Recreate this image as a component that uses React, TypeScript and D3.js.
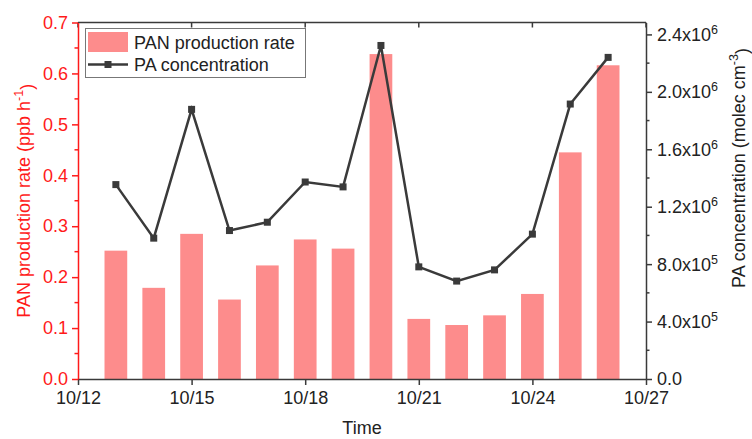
import React, { useEffect, useRef } from 'react'
import * as d3 from 'd3'

// days of October (year is arbitrary)
const days = [13, 14, 15, 16, 17, 18, 19, 20, 21, 22, 23, 24, 25, 26]
const panRate = [0.252, 0.179, 0.285, 0.156, 0.223, 0.274, 0.256, 0.638, 0.118, 0.106, 0.125, 0.167, 0.445, 0.616]
const paConc = [1.354e6, 0.981e6, 1.878e6, 1.034e6, 1.092e6, 1.372e6, 1.338e6, 2.323e6, 0.781e6, 0.682e6, 0.76e6, 1.009e6, 1.915e6, 2.24e6]
const xTickDays = [12, 15, 18, 21, 24, 27]
const leftTicks = [0, 0.1, 0.2, 0.3, 0.4, 0.5, 0.6, 0.7]
const rightTicks = [0, 4e5, 8e5, 1.2e6, 1.6e6, 2.0e6, 2.4e6]

const W = 752
const H = 439
const margin = { top: 22.5, right: 106, bottom: 60, left: 78 }
const RED = '#ff1a1a'
const DARK = '#3a3a3a'
const BAR = '#fd8c8c'
const FONT = '"Liberation Sans", Arial, sans-serif'
const FS = '18px'
const SUP = '12.5px'

const toDate = (d: number) => new Date(2020, 9, d)

function App() {
  const ref = useRef<SVGSVGElement>(null)

  useEffect(() => {
    const svg = d3.select(ref.current)
    svg.selectAll('*').remove()

    const x0 = margin.left
    const x1 = W - margin.right
    const y0 = H - margin.bottom
    const y1 = margin.top

    const x = d3.scaleTime().domain([toDate(12), toDate(27)]).range([x0, x1])
    const yL = d3.scaleLinear().domain([0, 0.7]).range([y0, y1])
    const yR = d3.scaleLinear().domain([0, 2.483e6]).range([y0, y1])

    const g = svg.append('g').style('font-family', FONT)

    // bars
    const dayW = x(toDate(13)) - x(toDate(12))
    const bw = dayW * 0.6
    g.append('g')
      .selectAll('rect')
      .data(days)
      .enter()
      .append('rect')
      .attr('x', (d) => x(toDate(d)) - bw / 2)
      .attr('width', bw)
      .attr('y', (d, i) => yL(panRate[i]))
      .attr('height', (d, i) => y0 - yL(panRate[i]))
      .attr('fill', BAR)

    // line
    const line = d3
      .line<number>()
      .x((d) => x(toDate(d)))
      .y((d, i) => yR(paConc[i]))
    g.append('path')
      .datum(days)
      .attr('d', line)
      .attr('fill', 'none')
      .attr('stroke', DARK)
      .attr('stroke-width', 2.5)
    g.append('g')
      .selectAll('rect')
      .data(days)
      .enter()
      .append('rect')
      .attr('x', (d) => x(toDate(d)) - 3.5)
      .attr('y', (d, i) => yR(paConc[i]) - 3.5)
      .attr('width', 7)
      .attr('height', 7)
      .attr('fill', DARK)

    // top frame line + inward ticks
    g.append('line')
      .attr('x1', x0).attr('x2', x1)
      .attr('y1', y1).attr('y2', y1)
      .attr('stroke', DARK).attr('stroke-width', 1.5)
    g.append('g')
      .selectAll('line')
      .data(xTickDays)
      .enter()
      .append('line')
      .attr('x1', (d) => x(toDate(d))).attr('x2', (d) => x(toDate(d)))
      .attr('y1', y1).attr('y2', y1 + 5)
      .attr('stroke', DARK).attr('stroke-width', 1.5)

    // bottom axis
    const bottom = g.append('g').attr('transform', `translate(0,${y0})`)
    bottom.call(
      d3.axisBottom(x)
        .tickValues(xTickDays.map(toDate))
        .tickFormat((d) => d3.timeFormat('%m/%d')(d as Date))
        .tickSize(6)
        .tickSizeOuter(0)
    )
    bottom.select('.domain').attr('stroke', DARK).attr('stroke-width', 1.5)
    bottom.selectAll('.tick line').attr('stroke', DARK).attr('stroke-width', 1.5)
    bottom.selectAll('.tick text')
      .attr('fill', '#222')
      .attr('y', 12)
      .style('font-size', FS)
      .style('font-family', FONT)

    // left axis
    const left = g.append('g').attr('transform', `translate(${x0},0)`)
    left.selectAll('line.minor')
      .data(d3.range(0.05, 0.7, 0.1))
      .enter()
      .append('line')
      .attr('x1', -3.5).attr('x2', 0)
      .attr('y1', (d) => yL(d)).attr('y2', (d) => yL(d))
      .attr('stroke', RED).attr('stroke-width', 1.5)
    left.call(
      d3.axisLeft(yL)
        .tickValues(leftTicks)
        .tickFormat(d3.format('.1f'))
        .tickSize(6)
        .tickSizeOuter(0)
    )
    left.select('.domain').attr('stroke', RED).attr('stroke-width', 1.5)
    left.selectAll('.tick line').attr('stroke', RED).attr('stroke-width', 1.5)
    left.selectAll('.tick text')
      .attr('fill', RED)
      .attr('x', -10)
      .style('font-size', FS)
      .style('font-family', FONT)

    // right axis
    const right = g.append('g').attr('transform', `translate(${x1},0)`)
    right.selectAll('line.minor')
      .data(d3.range(2e5, 2.4e6, 4e5))
      .enter()
      .append('line')
      .attr('x1', 0).attr('x2', 3.5)
      .attr('y1', (d) => yR(d)).attr('y2', (d) => yR(d))
      .attr('stroke', DARK).attr('stroke-width', 1.5)
    right.call(
      d3.axisRight(yR)
        .tickValues(rightTicks)
        .tickFormat(() => '')
        .tickSize(6)
        .tickSizeOuter(0)
    )
    right.select('.domain').attr('stroke', DARK).attr('stroke-width', 1.5)
    right.selectAll('.tick line').attr('stroke', DARK).attr('stroke-width', 1.5)
    right.selectAll('.tick text').remove()
    rightTicks.forEach((v) => {
      const t = right.append('text')
        .attr('x', 11)
        .attr('y', yR(v))
        .attr('dy', '0.36em')
        .attr('fill', '#222')
        .style('font-size', FS)
      if (v === 0) {
        t.text('0.0')
      } else {
        const e = Math.floor(Math.log10(v))
        const m = v / Math.pow(10, e)
        t.append('tspan').text(`${m.toFixed(1)}x10`)
        t.append('tspan').attr('dy', '-0.55em').style('font-size', SUP).text(String(e))
      }
    })

    // axis titles
    const lt = g.append('text')
      .attr('transform', `translate(30,${(y0 + y1) / 2}) rotate(-90)`)
      .attr('text-anchor', 'middle')
      .attr('fill', RED)
      .style('font-size', FS)
    lt.append('tspan').text('PAN production rate (ppb h')
    lt.append('tspan').attr('dy', '-0.55em').style('font-size', SUP).text('-1')
    lt.append('tspan').attr('dy', '0.55em').text(')')

    const rt = g.append('text')
      .attr('transform', `translate(745,168) rotate(-90)`)
      .attr('text-anchor', 'middle')
      .attr('fill', '#222')
      .style('font-size', FS)
    rt.append('tspan').text('PA concentration (molec cm')
    rt.append('tspan').attr('dy', '-0.55em').style('font-size', SUP).text('-3')
    rt.append('tspan').attr('dy', '0.55em').text(')')

    g.append('text')
      .attr('x', (x0 + x1) / 2)
      .attr('y', 434)
      .attr('text-anchor', 'middle')
      .attr('fill', '#222')
      .style('font-size', FS)
      .text('Time')

    // legend
    const lg = g.append('g')
    lg.append('rect')
      .attr('x', 85.5).attr('y', 28.5)
      .attr('width', 220).attr('height', 49)
      .attr('fill', 'white')
      .attr('stroke', '#777')
      .attr('stroke-width', 1)
    lg.append('rect')
      .attr('x', 88).attr('y', 32)
      .attr('width', 40).attr('height', 20)
      .attr('fill', BAR)
    lg.append('line')
      .attr('x1', 88).attr('x2', 128)
      .attr('y1', 64.5).attr('y2', 64.5)
      .attr('stroke', DARK).attr('stroke-width', 2.5)
    lg.append('rect')
      .attr('x', 104.5).attr('y', 61)
      .attr('width', 7).attr('height', 7)
      .attr('fill', DARK)
    lg.append('text')
      .attr('x', 134).attr('y', 48.5)
      .attr('fill', '#222')
      .style('font-size', FS)
      .text('PAN production rate')
    lg.append('text')
      .attr('x', 134).attr('y', 71)
      .attr('fill', '#222')
      .style('font-size', FS)
      .text('PA concentration')
  }, [])

  return (
    <svg
      ref={ref}
      width={W}
      height={H}
      style={{ position: 'absolute', left: 0, top: 0, background: 'white' }}
    />
  )
}

export default App
